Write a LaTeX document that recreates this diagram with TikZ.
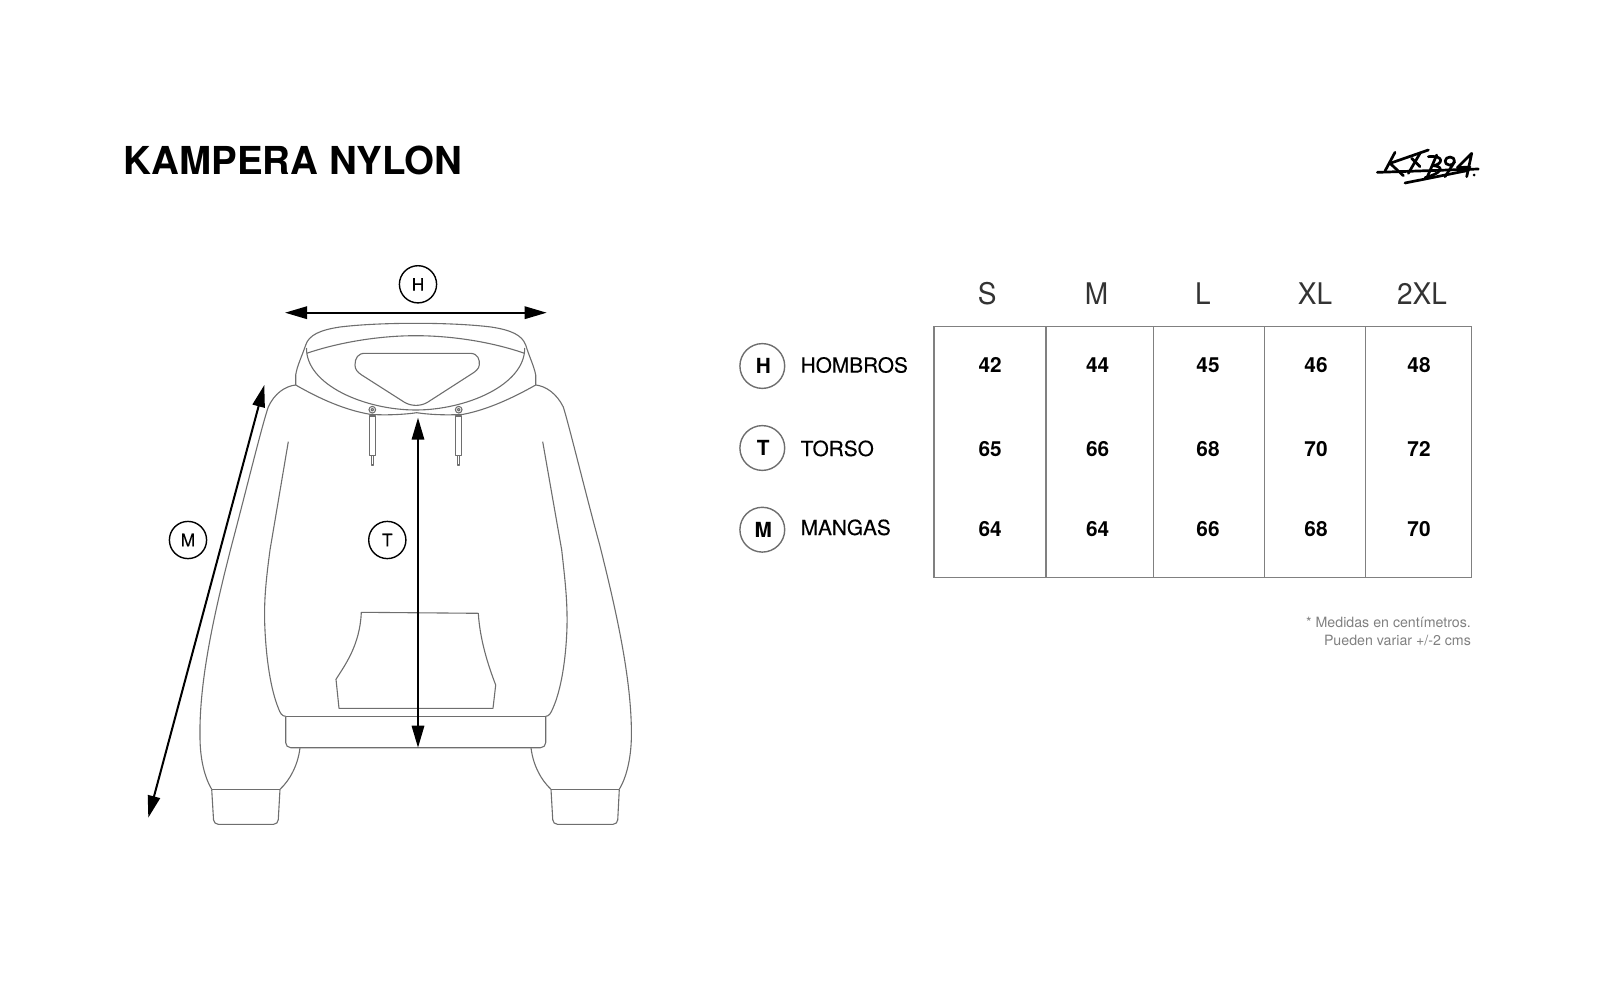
\documentclass[tikz,border=0pt]{standalone}
\usepackage{fontspec}
\setmainfont{TeX Gyre Heros}
\newfontfamily\medfont[FakeBold=0.25]{TeX Gyre Heros}
\newfontfamily\headfont[FakeStretch=0.94]{TeX Gyre Heros}
\usetikzlibrary{arrows.meta}
\definecolor{garment}{HTML}{6E6E6E}
\definecolor{grid}{HTML}{808080}
\definecolor{note}{HTML}{808080}
\newcommand{\fs}[1]{\fontsize{#1}{#1}\selectfont}
\tikzset{
  garmentline/.style={draw=garment,line width=0.55pt,line join=round},
  gridline/.style={draw=grid,line width=0.65pt},
  dimarrow/.style={draw=black,line width=1pt,{Triangle[length=11pt,width=6.2pt]}-{Triangle[length=11pt,width=6.2pt]}},
  dimcircle/.style={circle,draw=black,line width=0.7pt,minimum size=18.6pt,inner sep=0pt,font=\medfont\fs{8.6}},
  legendcircle/.style={circle,draw=garment,line width=0.7pt,minimum size=22.4pt,inner sep=0pt,font=\fs{10.4}\bfseries},
  legendlabel/.style={anchor=base west,inner sep=0pt,font=\medfont\fs{10.4}},
  sizehead/.style={anchor=base,inner sep=0pt,font=\headfont\fs{14.9},text=black!80},
  cellval/.style={anchor=base,inner sep=0pt,font=\fs{10.4}\bfseries},
  footnote/.style={anchor=base east,inner sep=0pt,font=\fs{7.1},text=note},
  logostroke/.style={draw=black,line width=1.35pt,line cap=round,line join=round}
}
\begin{document}
\begin{tikzpicture}[x=0.5pt,y=-0.5pt]
\useasboundingbox (0,0) rectangle (1600,1000);
% title
\node[anchor=base west,inner sep=0pt,font=\fs{19.25}\bfseries] (title) at (123.3,175) {KAMPERA NYLON};
% logo
\begin{scope}[shift={(1370,145)},x=0.1667pt,y=-0.1667pt]
  \draw[logostroke] (22,82) -- (325,72);
  \draw[logostroke] (105,114) -- (296,76);
  \draw[logostroke] (75,22) -- (45,78);
  \draw[logostroke] (175,15) -- (60,55) -- (100,92);
  \draw[logostroke] (150,25) -- (115,85);
  \draw[logostroke] (125,40) -- (150,65);
  \draw[logostroke] (200,30) -- (170,100);
  \draw[logostroke] (175,35) .. controls (225,30) and (218,58) .. (190,62) .. controls (225,65) and (215,85) .. (165,98);
  \draw[logostroke] (240,36) .. controls (222,36) and (220,60) .. (238,60) .. controls (258,60) and (258,36) .. (240,36) (254,50) -- (225,95);
  \draw[logostroke] (305,25) -- (262,68) -- (300,66) (305,25) -- (290,95);
  \fill (312,90) circle (4.5);
\end{scope}
% hoodie: hood
\draw[garmentline] (295.7,385) -- (295.7,375) .. controls (297,366) and (302,356) .. (305.7,345)
  .. controls (309,335) and (320,330) .. (340,327) .. controls (362,324.3) and (390,323.3) .. (415.7,323.3)
  .. controls (441,323.3) and (469,324.3) .. (491,327) .. controls (511,330) and (522,335) .. (525.7,345)
  .. controls (529,356) and (534,366) .. (535.7,375) -- (535.7,385);
\draw[garmentline] (306.7,353.3) .. controls (340,342) and (380,335.7) .. (415.7,335.7)
  .. controls (452,335.7) and (492,342) .. (524.5,353.3);
\draw[garmentline] (306.5,348) .. controls (306,385) and (365,410) .. (415.7,410)
  .. controls (466,410) and (525,385) .. (524.7,348);
\draw[garmentline] (365,353.3) -- (470,353.3) .. controls (478,353.3) and (480,360) .. (479.3,365)
  .. controls (479,369) and (475,372) .. (470.7,374.5) -- (428,402) .. controls (421,406.5) and (411,406.5) .. (404,402)
  -- (361.7,375) .. controls (357,372) and (355,369) .. (355,365) .. controls (355,358) and (358,353.3) .. (365,353.3) -- cycle;
% collar seam
\draw[garmentline] (295.7,385) .. controls (320,399) and (345,410) .. (370,414.3)
  .. controls (385,415.5) and (405,414.5) .. (416.7,412.7) .. controls (428,414.5) and (447,415.5) .. (463.3,414.3)
  .. controls (486,410) and (511,399) .. (535.7,385);
% grommets and cords
\foreach \gx in {372.3,458.7}{
  \draw[garmentline] (\gx,409.7) circle (3.3);
  \draw[garmentline] (\gx,409.7) circle (1.4);
  \draw[garmentline] (\gx-3,416) rectangle (\gx+3,455.7);
  \draw[garmentline] (\gx-1.2,455.7) rectangle (\gx+1.2,465);
}
% sleeves
\draw[garmentline] (295.7,385) .. controls (285,386) and (274,394) .. (268.3,407)
  .. controls (262,425) and (245,495) .. (231.7,545) .. controls (215,610) and (199,680) .. (200,736.7)
  .. controls (200,760) and (205,778) .. (211.7,789.3);
\draw[garmentline] (535.7,385) .. controls (546,386) and (557,394) .. (563.3,407)
  .. controls (569,425) and (586,495) .. (599.7,545) .. controls (616,610) and (632,680) .. (631.4,736.7)
  .. controls (631,760) and (626,778) .. (619.3,789.3);
\draw[garmentline] (280,789.3) .. controls (290,780) and (298,765) .. (300,747.7);
\draw[garmentline] (551,789.3) .. controls (541,780) and (533,765) .. (531,747.7);
% cuffs
\draw[garmentline,rounded corners=2.2pt] (211.7,789.3) -- (213.8,824.3) -- (278,824.3) -- (280,789.3);
\draw[garmentline] (211.7,789.3) -- (280,789.3);
\draw[garmentline,rounded corners=2.2pt] (551,789.3) -- (553,824.3) -- (617.5,824.3) -- (619.3,789.3);
\draw[garmentline] (551,789.3) -- (619.3,789.3);
% body seams
\draw[garmentline] (288.3,441.7) -- (270,550) .. controls (266,580) and (264,600) .. (264.7,623.3)
  .. controls (266,660) and (271,690) .. (278.3,708) .. controls (280,713) and (282,716.3) .. (285.7,716.3);
\draw[garmentline] (542.7,441.7) -- (561.7,550) .. controls (565,580) and (567.5,600) .. (567,626.7)
  .. controls (566,660) and (561,690) .. (553,708) .. controls (551,713) and (549,716.3) .. (545.7,716.3);
% hem
\draw[garmentline,rounded corners=2.5pt] (285.7,716.3) -- (285.7,747.7) -- (545.7,747.7) -- (545.7,716.3);
\draw[garmentline] (285.7,716.3) -- (545.7,716.3);
% pocket
\draw[garmentline] (361.3,612.3) -- (478.3,613.3) .. controls (480,640) and (488,665) .. (495.7,685)
  -- (493,708.3) -- (339,708.3) -- (336,679.3) .. controls (345,665) and (360,645) .. (361.3,612.3) -- cycle;
% dimension arrows
\coordinate (hL) at (285,312.7);
\coordinate (hR) at (546.7,312.7);
\coordinate (tT) at (418,417.7);
\coordinate (tB) at (418,747.7);
\coordinate (mT) at (264.3,385);
\coordinate (mB) at (148.3,817.7);
\draw[dimarrow] (hL) -- (hR);
\draw[dimarrow] (tT) -- (tB);
\draw[dimarrow] (mT) -- (mB);
\node[dimcircle] (dimH) at (418,284.3) {H};
\node[dimcircle] (dimT) at (387.3,540) {T};
\node[dimcircle] (dimM) at (188,540) {M};
% legend
\node[legendcircle] (legH) at (762.3,366) {\kern1pt H};
\node[legendcircle] (legT) at (762.3,448) {\kern1pt T};
\node[legendcircle] (legM) at (762.3,529.7) {\kern1pt M};
\node[legendlabel] (labH) at (800.3,372.6) {HOMBROS};
\node[legendlabel] (labT) at (800.3,456) {TORSO};
\node[legendlabel] (labM) at (800.3,535) {MANGAS};
% table
\draw[gridline] (934,326.7) rectangle (1471.3,577.7);
\foreach \vx in {1046,1153.3,1264.3,1365.6}{\draw[gridline] (\vx,326.7) -- (\vx,577.7);}
% headers
\node[sizehead] (hS) at (987.2,304) {S};
\node[sizehead] (hM) at (1096.6,304) {M};
\node[sizehead] (hLg) at (1203,304) {L};
\node[sizehead] (hXL) at (1315,304) {XL};
\node[sizehead] (h2XL) at (1422,304) {2XL};
% values
\foreach \nm/\cx/\cy/\val in {
 a1/990.1/372.7/42,a2/1097.6/372.7/44,a3/1208/372.7/45,a4/1316/372.7/46,a5/1419/372.7/48,
 b1/990.1/456/65,b2/1097.6/456/66,b3/1208/456/68,b4/1316/456/70,b5/1419/456/72,
 c1/990.1/536/64,c2/1097.6/536/64,c3/1208/536/66,c4/1316/536/68,c5/1419/536/70}{
  \node[cellval] (\nm) at (\cx,\cy) {\val};
}
% footnote
\node[footnote] (noteA) at (1471.3,627) {* Medidas en centímetros.};
\node[footnote] (noteB) at (1471.3,645.5) {Pueden variar +/-2 cms};
\end{tikzpicture}
\end{document}
